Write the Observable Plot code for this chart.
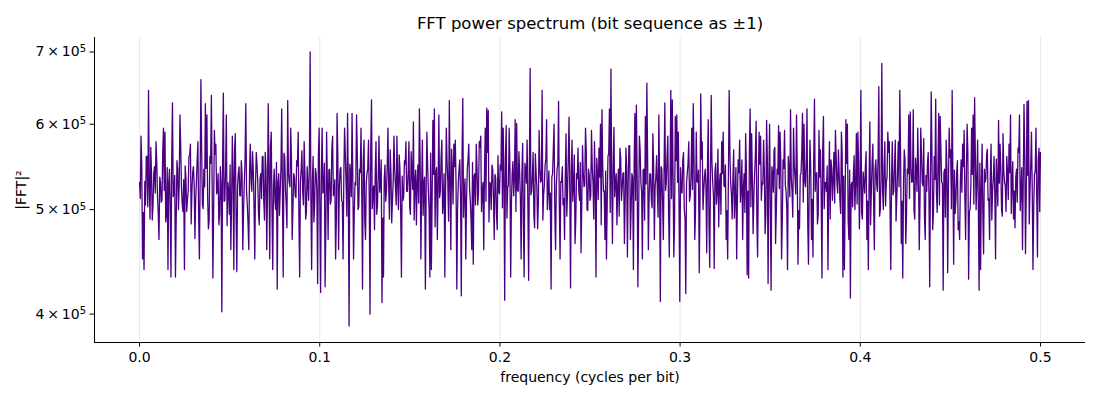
<!DOCTYPE html>
<html>
<head>
<meta charset="utf-8">
<script src="https://cdn.jsdelivr.net/npm/d3@7"></script>
<script src="https://cdn.jsdelivr.net/npm/@observablehq/plot@0.6"></script>
<style>
  html, body { margin: 0; padding: 0; background: #fff; }
  #chart { width: 1100px; height: 400px; }
</style>
</head>
<body>
<div id="chart"></div>
<script>
// Chart text
const titleText = "FFT power spectrum (bit sequence as ±1)";
const xLabel = "frequency (cycles per bit)";
const yLabel = "|FFT|²";

// Tick values
const xTicks = [0.0, 0.1, 0.2, 0.3, 0.4, 0.5];
const yTicks = [400000, 500000, 600000, 700000];

// Frequency range of the spectrum (cycles per bit): 0 .. Nyquist
const freqStart = 0.0;
const freqEnd = 0.5;

// |FFT|^2 values (even bins), in thousands
const powerK = [
  530,585,450,440,505,560,645,490,540,505,
  548,578,515,469,530,510,595,590,495,440,
  545,433,628,520,433,555,500,612,525,498,
  440,535,510,560,575,520,548,470,530,578,
  450,660,505,545,627,612,480,560,638,432,
  592,575,520,484,548,402,641,510,612,530,
  495,459,
  585,440,588,438,540,515,555,459,530,627,
  505,459,575,520,545,450,565,530,484,540,
  560,510,565,459,627,450,590,440,545,500,
  422,540,520,620,433,560,505,631,530,595,
  469,540,515,555,590,433,545,520,578,490,
  548,510,700,440,560,505,540,427,595,419,
  595,520,424,590,469,545,510,
  585,520,450,614,459,545,510,450,595,530,
  614,390,540,614,450,530,612,500,545,595,
  422,580,469,540,580,400,632,520,479,578,
  505,585,530,410,433,550,520,595,490,540,
  510,585,525,585,500,545,433,510,555,578,
  520,578,495,540,603,530,484,550,620,450,
  580,530,422,590,520,433,
  440,605,620,540,469,612,520,580,510,433,
  595,530,631,459,545,575,580,422,530,556,
  416,634,520,450,545,575,510,459,445,540,
  575,505,578,585,520,459,595,621,618,530,
  500,545,469,535,479,520,550,616,595,412,
  598,525,595,433,540,515,606,601,520,540,
  450,576,433,545,580,430,676,520,565,481,
  540,480,592,530,645,515,550,606,520,500,
  422,540,600,459,545,630,450,530,505,469,
  588,520,609,423,580,525,465,540,570,510,
  456,573,525,595,500,545,510,592,530,578,
  433,540,570,600,619,520,469,450,560,620,
  675,465,596,530,484,545,570,510,540,465,
  570,452,573,469,540,440,614,
  625,424,585,530,450,545,610,655,459,540,
  510,588,469,535,520,612,411,545,469,628,
  530,585,452,645,632,452,610,612,590,411,
  520,556,500,418,540,578,515,595,627,469,
  590,530,437,640,578,520,545,456,606,442,
  638,530,441,552,520,482,540,578,590,525,
  469,450,645,530,490,568,515,
  450,556,580,525,469,540,588,435,432,620,
  588,475,540,604,452,590,585,530,580,475,
  605,427,600,421,540,568,465,545,598,590,
  450,556,592,520,440,545,619,520,595,535,
  612,445,480,540,614,600,525,620,445,580,
  469,452,633,540,485,592,568,432,610,530,
  520,440,578,556,510,565,
  592,530,568,510,590,433,440,606,600,469,
  414,530,540,500,588,590,480,645,490,530,
  548,469,440,603,520,575,459,556,520,650,
  500,683,500,578,530,590,578,440,578,520,
  580,511,578,645,465,432,568,465,545,612,
  616,530,619,490,545,595,459,595,530,582,
  469,520,565,424,643,479,560,
  633,497,614,610,530,421,545,580,437,595,
  568,645,445,496,540,479,469,556,575,592,
  469,600,431,500,595,612,635,500,580,421,
  440,575,455,530,562,510,469,575,520,560,
  450,530,605,575,500,588,530,498,540,575,
  612,530,490,481,545,570,612,520,459,626,
  455,630,631,520,590,440,540,595,452,570,565
];

// |FFT|^2 values of the odd bins (between the even ones), in thousands
const powerKOdd = [
  512,548,497,531,560,503,524,571,489,540,
  518,553,495,536,508,566,521,487,547,530,
  502,559,514,538,491,545,527,573,506,533,
  549,498,520,562,485,541,529,510,556,493,
  537,568,501,525,546,514,488,552,531,499,
  563,517,540,495,528,554,509,544,483,522,
  550,507,535,569,492,526,548,515,539,500,
  557,521,486,543,532,566,504,528,551,496,
  534,512,560,489,545,519,538,572,498,527,
  509,553,530,494,547,516,564,523,481,540,
  525,558,502,536,513,549,490,531,567,505,
  542,497,528,555,511,533,487,546,520,561,
  499,537,518,552,484,529,544,506,570,515,
  533,490,559,524,547,508,536,563,493,521,
  551,514,539,498,527,565,503,541,517,555,
  488,530,546,512,572,501,526,543,495,538,
  519,556,491,534,509,548,524,568,486,532,
  545,505,529,562,497,537,514,551,520,541,
  503,566,522,489,544,530,507,557,528,494,
  536,518,550,499,564,511,539,482,547,525,
  513,559,496,540,523,553,488,531,569,506,
  548,527,501,545,516,562,492,534,510,556,
  524,490,553,537,505,546,519,571,498,530,
  542,509,565,487,528,550,513,539,496,561,
  517,544,502,533,558,491,526,547,508,554,
  535,498,521,566,511,540,485,552,529,504,
  549,516,538,494,563,524,507,545,532,489,
  527,557,500,543,518,536,570,497,526,551,
  505,531,548,512,539,493,560,521,544,509,
  562,488,534,520,553,503,541,527,567,499,
  538,515,547,490,525,558,511,536,484,550,
  520,543,506,564,497,532,549,514,540,526,
  493,559,523,541,508,546,530,573,501,535,
  552,510,537,496,568,519,544,489,528,557,
  514,539,502,550,525,561,492,533,548,507,
  545,521,560,498,536,512,541,486,555,530,
  503,547,518,565,490,529,552,509,538,522,
  560,496,531,544,511,557,500,537,524,549,
  487,535,553,515,542,506,569,528,495,540,
  526,550,499,538,563,517,534,491,547,512,
  541,508,556,524,497,545,520,566,503,533,
  515,562,489,537,551,510,528,544,494,558,
  532,505,548,519,571,498,539,523,555,488,
  546,527,502,560,514,535,492,550,517,542,
  499,538,564,508,531,553,486,527,545,511,
  557,520,541,495,536,512,568,501,530,549,
  523,490,546,533,507,559,518,540,496,564,
  537,514,552,489,544,527,503,561,529,506,
  550,532,497,542,518,566,509,535,484,553,
  511,545,528,561,493,539,522,548,504,536,
  565,500,534,516,551,488,543,525,570,509,
  528,556,495,540,512,547,531,499,558,520,
  543,507,563,526,491,538,552,514,536,562,
  497,533,518,549,505,567,529,541,492,546,
  524,559,501,537,544,510,555,487,532,519,
  548,513,540,566,498,527,539,506,561,530,
  502,552,521,495,545,533,569,512,538,489,
  535,518,557,504,529,548,493,543,526,560,
  511,541,496,554,520,536,508,565,499,547,
  529,563,514,538,485,550,524,503,542,517,
  556,498
];

// Table built from the arrays: bins evenly spaced from 0 to Nyquist
const merged = [];
powerK.forEach((p, i) => {
  merged.push(p);
  if (i < powerKOdd.length) merged.push(powerKOdd[i]);
});
const nBins = merged.length;
const data = merged.map((p, i) => ({
  f: freqStart + (freqEnd - freqStart) * i / (nBins - 1),
  p: p * 1000
}));

const xDomain = [-0.025, 0.525];
const yDomain = [376500, 722000];
const font = "DejaVu Sans, sans-serif";

const chart = Plot.plot({
  width: 1100,
  height: 400,
  marginLeft: 94,
  marginRight: 15,
  marginTop: 37,
  marginBottom: 58,
  style: { fontFamily: font, fontSize: "14px", background: "#fff", color: "#000" },
  x: { domain: xDomain, label: null },
  y: { type: "log", domain: yDomain, label: null },
  marks: [
    Plot.gridX(xTicks, { stroke: "#b0b0b0", strokeOpacity: 0.35, strokeWidth: 0.8 }),
    Plot.line(data, { x: "f", y: "p", stroke: "#4b0082", strokeWidth: 1.3 }),
    Plot.ruleX([xDomain[0]], { stroke: "#000", strokeWidth: 1 }),
    Plot.ruleY([yDomain[0]], { stroke: "#000", strokeWidth: 1 }),
    Plot.axisX({
      ticks: xTicks, tickFormat: d => d.toFixed(1), tickSize: 4.5, tickPadding: 5,
      label: null, fontSize: 14, stroke: "#000"
    }),
    Plot.axisY({
      ticks: yTicks, tickFormat: d => `${d / 1e5}\u2009×\u200910`, tickSize: 4.5, tickPadding: 4,
      label: null, fontSize: 14, stroke: "#000"
    }),
    Plot.text([titleText], { frameAnchor: "top", dy: -14, lineAnchor: "middle", fontSize: 16.5, fill: "#000", text: d => d }),
    Plot.text([xLabel], { frameAnchor: "bottom", dy: 35, lineAnchor: "middle", fontSize: 14, fill: "#000", text: d => d }),
    Plot.text([yLabel], { frameAnchor: "left", dx: -73, rotate: -90, textAnchor: "middle", lineAnchor: "middle", fontSize: 14, fill: "#000", text: d => d })
  ]
});

// Superscript exponent on y tick labels
const ns = "http://www.w3.org/2000/svg";
chart.querySelectorAll('g[aria-label="y-axis tick label"] text').forEach(t => {
  const ts = document.createElementNS(ns, "tspan");
  ts.setAttribute("dy", "-0.45em");
  ts.setAttribute("font-size", "10");
  ts.textContent = "5";
  t.appendChild(ts);
});

document.getElementById("chart").appendChild(chart);
</script>
</body>
</html>
